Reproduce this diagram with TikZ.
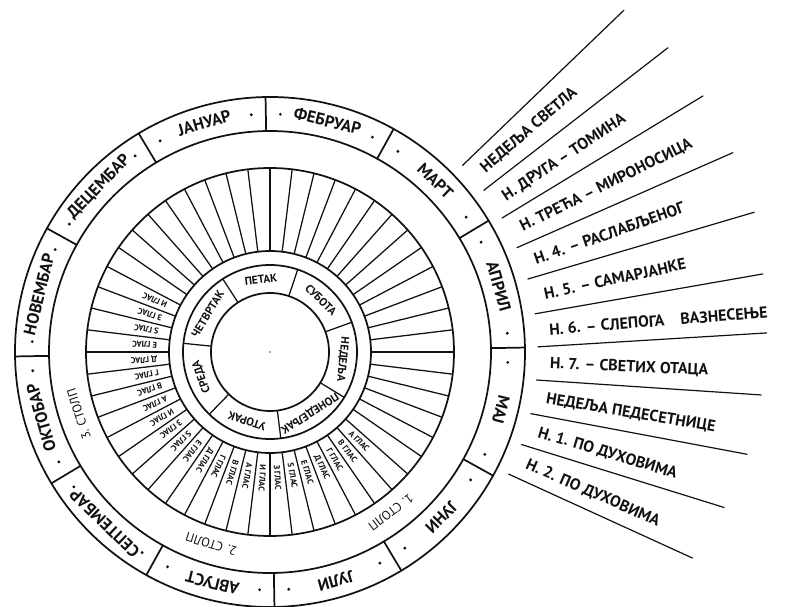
\documentclass[tikz,border=0pt]{standalone}
\usepackage{fontspec}
\setmainfont{PT Sans}
\definecolor{ink}{HTML}{111111}
\definecolor{hole}{HTML}{8A8A8A}

\begin{document}
\begin{tikzpicture}[x=0.75pt,y=0.75pt,line cap=round,line join=round,
  ring/.style={draw=ink,line width=1.3pt},
  spoke/.style={draw=ink,line width=0.95pt},
  fan/.style={draw=ink,line width=0.9pt},
  monthname/.style={text=ink,inner sep=0pt,font=\bfseries\fontsize{12.5}{12.5}\selectfont},
  dayname/.style={text=ink,inner sep=0pt,font=\bfseries\fontsize{8.5}{8.5}\selectfont},
  tonename/.style={text=ink,inner sep=0pt,anchor=west,font=\bfseries\fontsize{6.3}{6.3}\selectfont},
  pillarname/.style={text=ink,inner sep=0pt,font=\fontsize{9.5}{9.5}\selectfont},
  sundayname/.style={text=ink,inner sep=0pt,anchor=west,font=\bfseries\fontsize{12}{12}\selectfont}]

  \useasboundingbox (-270,-254) rectangle (535,352);

  % the six circles of the wheel
  \draw[ring] (0,0) circle (255);
  \draw[ring] (0,0) circle (221);
  \draw[ring] (0,0) circle (184);
  \draw[ring] (0,0) circle (101);
  \draw[ring] (0,0) circle (87);
  \draw[ring] (0,0) circle (59);
  \fill[hole] (0,0) circle (1.2);

  % months: dividers, dots and names
  \foreach \b in {1,31,...,331} {
    \draw[ring] (\b:221) -- (\b:255);
    \fill[ink] ({\b+3.5}:238) circle (1.6);
    \fill[ink] ({\b-3.5}:238) circle (1.6);
  }
  \foreach \a/\txt [count=\i] in {106/ЈАНУАР,76/ФЕБРУАР,46/МАРТ,16/АПРИЛ,-14/МАЈ,-44/ЈУНИ,
      -74/ЈУЛИ,-104/АВГУСТ,-134/СЕПТЕМБАР,-164/ОКТОБАР,166/НОВЕМБАР,136/ДЕЦЕМБАР}
    \node[monthname,rotate={\a-90}] (month\i) at (\a:238) {\txt};

  % the 52 weeks
  \foreach \k in {0,...,51}
    \draw[spoke] ({\k*6.9231}:101) -- ({\k*6.9231}:184);

  % three pillars of eight tones
  \foreach \p in {0,1,2}
    \foreach \n/\num in {0/А,1/В,2/Г,3/Д,4/Е,5/Ѕ,6/З,7/И} {
      \pgfmathsetmacro\ang{-45-6.9231*(8*\p+\n)}
      \node[tonename,rotate=\ang] (tone\p\n) at (\ang:113) {\num\ ГЛАС};
    }

  \node[pillarname,rotate=-143] (pillar1) at (-53:201) {1. СТОЛП};
  \node[pillarname,rotate=-197] (pillar2) at (-107:201) {2. СТОЛП};
  \node[pillarname,rotate=108] (pillar3) at (198:201) {3. СТОЛП};

  % days of the week
  \foreach \k in {0,...,6}
    \draw[spoke] ({20+\k*51.4286}:59) -- ({20+\k*51.4286}:87);
  \foreach \a/\txt [count=\i] in {45.7/СУБОТА,97.1/ПЕТАК,148.6/ЧЕТВРТАК,200/СРЕДА,
      251.4/УТОРАК,302.9/ПОНЕДЕЉАК,354.3/НЕДЕЉА}
    \node[dayname,rotate={\a-90}] (day\i) at (\a:73) {\txt};

  % sundays after Easter, fanned out to the right
  \foreach \s/\e/\r in {44.1/44.0/492,37.1/37.4/501,30.0/30.6/503,22.9/23.3/504,
      15.8/16.1/504,8.2/9.0/499,1.1/2.2/497,-6.0/-5.0/493,-13.3/-12.1/488,
      -20.2/-18.9/480,-27.1/-26.0/470}
    \draw[fan] (\s:268) -- (\e:\r);
  \foreach \a/\txt [count=\i] in {40.6/НЕДЕЉА СВЕТЛА,33.5/Н. ДРУГА – ТОМИНА,
      26.4/Н. ТРЕЋА – МИРОНОСИЦА,19.3/Н. 4. – РАСЛАБЉЕНОГ,12.0/Н. 5. – САМАРЈАНКЕ,
      4.6/Н. 6. – СЛЕПОГА\quad ВАЗНЕСЕЊЕ,-2.4/Н. 7. – СВЕТИХ ОТАЦА,
      -9.6/НЕДЕЉА ПЕДЕСЕТНИЦЕ,-16.7/Н. 1. ПО ДУХОВИМА,-23.6/Н. 2. ПО ДУХОВИМА}
    \node[sundayname,rotate=\a] (sunday\i) at (\a:280) {\txt};

\end{tikzpicture}
\end{document}
